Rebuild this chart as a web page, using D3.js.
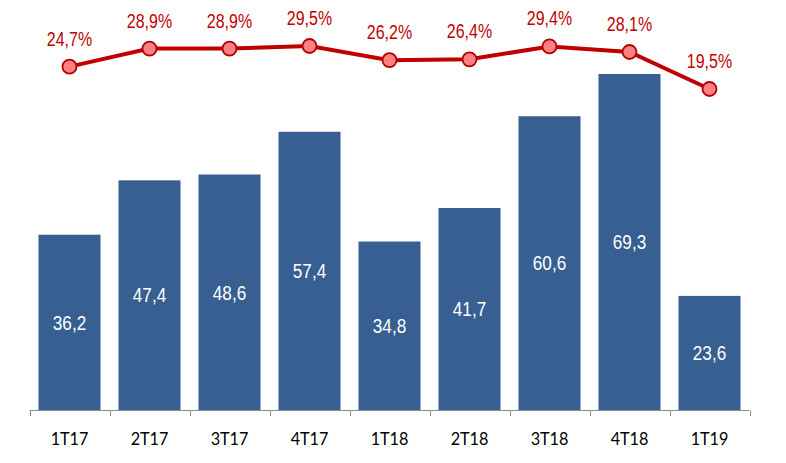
<!DOCTYPE html>
<html><head><meta charset="utf-8">
<script src="https://cdn.jsdelivr.net/npm/d3@7"></script>
<style>body{margin:0;background:#fff}</style>
</head><body>
<svg id="c" width="786" height="463"></svg>
<script>
const categories = ["1T17","2T17","3T17","4T17","1T18","2T18","3T18","4T18","1T19"];
const barValues = [36.2,47.4,48.6,57.4,34.8,41.7,60.6,69.3,23.6];
const pctValues = [24.7,28.9,28.9,29.5,26.2,26.4,29.4,28.1,19.5];

const svg = d3.select("#c");
const fmt = v => v.toFixed(1).replace(".", ",");

const x = d3.scaleBand().domain(categories).range([29.5, 749.5]).paddingInner(0.225).paddingOuter(0.1125);
const y = d3.scaleLinear().domain([0, 69.3]).range([410.5, 74]);
const yp = d3.scaleLinear().domain([19.5, 29.5]).range([89, 46]);

// bars
svg.append("g").selectAll("rect").data(barValues).join("rect")
  .attr("x", (d,i) => x(categories[i]))
  .attr("width", x.bandwidth())
  .attr("y", d => y(d))
  .attr("height", d => y(0) - y(d))
  .attr("fill", "#375f91");

// bar labels
svg.append("g").selectAll("text").data(barValues).join("text")
  .attr("transform", (d,i) => `translate(${x(categories[i]) + x.bandwidth()/2},${(y(d) + y(0))/2 + 7}) scale(0.88,1)`)
  .attr("text-anchor", "middle")
  .attr("fill", "#fff")
  .attr("font-family", "Liberation Sans, Arial, sans-serif")
  .attr("font-size", 19.5)
  .text(d => fmt(d));

// axis
const step = x.step();
const axisG = svg.append("g");
axisG.append("line").attr("x1", 29.5).attr("x2", 749.5).attr("y1", 410.5).attr("y2", 410.5)
  .attr("stroke", "#8c8c8c").attr("stroke-width", 1);
const bounds = d3.range(categories.length + 1).map(i => 29.5 + i*step);
axisG.selectAll("line.t").data(bounds).join("line").attr("class","t")
  .attr("x1", d => Math.round(d)+0.5).attr("x2", d => Math.round(d)+0.5)
  .attr("y1", 410.5).attr("y2", 416)
  .attr("stroke", "#8c8c8c");
axisG.selectAll("text").data(categories).join("text")
  .attr("transform", d => `translate(${x(d) + x.bandwidth()/2},445) scale(0.9,1)`)
  .attr("text-anchor", "middle")
  .attr("fill", "#000")
  .attr("font-family", "Lato, Carlito, Calibri, sans-serif")
  .attr("font-size", 18)
  .text(d => d);

// line
const cx = i => x(categories[i]) + x.bandwidth()/2;
svg.append("path")
  .datum(pctValues)
  .attr("d", d3.line().x((d,i) => cx(i)).y(d => yp(d)))
  .attr("fill", "none")
  .attr("stroke", "#c00000")
  .attr("stroke-width", 4);

svg.append("g").selectAll("circle").data(pctValues).join("circle")
  .attr("cx", (d,i) => cx(i))
  .attr("cy", d => yp(d))
  .attr("r", 7)
  .attr("fill", "#ff8080")
  .attr("stroke", "#b00000")
  .attr("stroke-width", 1.8);

svg.append("g").selectAll("text").data(pctValues).join("text")
  .attr("transform", (d,i) => `translate(${cx(i)},${yp(d) - 21}) scale(0.82,1)`)
  .attr("text-anchor", "middle")
  .attr("fill", "#c00000")
  .attr("font-family", "Liberation Sans, Arial, sans-serif")
  .attr("font-size", 19.5)
  .text(d => fmt(d) + "%");
</script>
</body></html>
